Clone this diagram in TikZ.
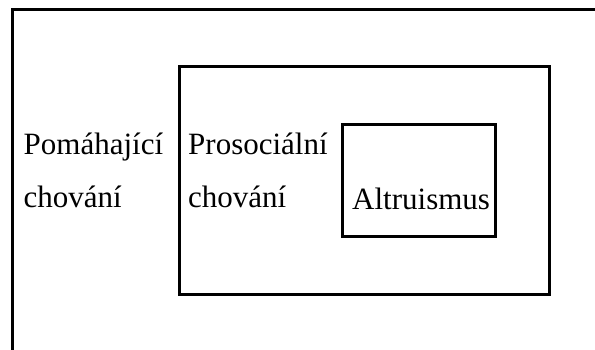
\documentclass[tikz,border=0pt]{standalone}
\usepackage{fontspec}
\setmainfont{Liberation Serif}
\usetikzlibrary{positioning}

\tikzset{
  box/.style={draw, line width=3pt},
  word/.style={anchor=base west, inner sep=0pt, font=\fontsize{31}{37}\selectfont}
}

\begin{document}
\begin{tikzpicture}[x=1pt, y=-1pt]

	\useasboundingbox (0,0) rectangle (595,349);
	\clip (0,0) rectangle (595,349);

	% three nested boxes
	\draw[box] (12.5,9) rectangle (640,400);
	\draw[box] (179,66) rectangle (549.5,294.5);
	\draw[box] (342.5,124.5) rectangle (495.5,236.5);

	\node[word] (pom) at (23.5,154) {Pomáhající};
	\node[word] (pomch) at (23.5,207) {chování};
	\node[word] (pro) at (188,154) {Prosociální};
	\node[word] (proch) at (188,207) {chování};
	\node[word] (alt) at (352,209) {Altruismus};

\end{tikzpicture}
\end{document}
